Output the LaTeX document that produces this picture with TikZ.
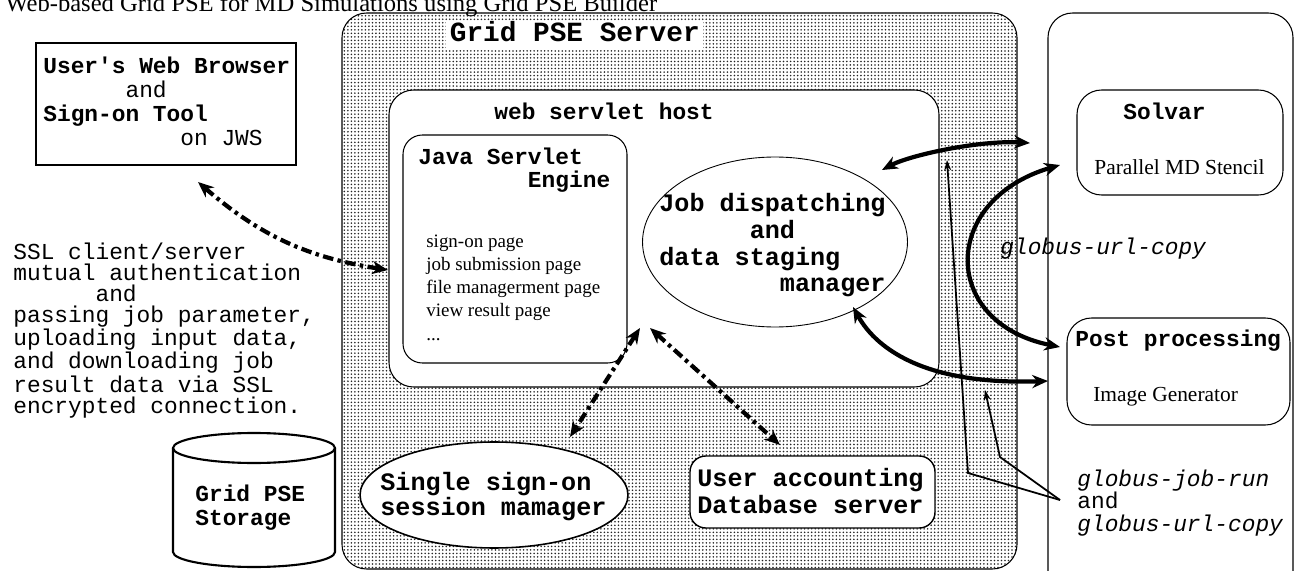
\documentclass[tikz,border=0pt]{standalone}
\usepackage{fontspec}
\setmainfont{Liberation Serif}
\setmonofont{Liberation Mono}
\usetikzlibrary{shapes.geometric, arrows.meta, fit, patterns.meta}
\newcommand{\fs}[2]{\fontsize{#1}{#2}\selectfont}
\newcommand{\sk}[1]{\hspace*{\dimexpr#1em*6/10\relax}}

\begin{document}
\begin{tikzpicture}[x=0.02cm, y=-0.02cm,
  box/.style={draw, inner sep=0pt, line width=.6pt},
  txt/.style={anchor=base west, inner sep=0pt, align=left, font=\ttfamily\fs{13}{13.7}},
  txtb/.style={txt, font=\ttfamily\bfseries\fs{13}{13.1}},
  serif/.style={anchor=base west, inner sep=0pt, font=\rmfamily\fs{12.2}{14}},
  dd/.style={line width=2.4pt, dash pattern=on 6pt off 2.5pt on 2pt off 2.5pt,
    {Stealth[length=9pt,width=7.5pt]}-{Stealth[length=9pt,width=7.5pt]}},
  fat/.style={line width=2.4pt, {Stealth[length=9pt,width=7.5pt]}-{Stealth[length=9pt,width=7.5pt]}},
  lead/.style={line width=1pt, -{Stealth[length=6pt,width=4pt]}}]
  \useasboundingbox (0,0) rectangle (1296,571);
  % containers
  \node[box, fit={(342,13) (1017,569)}, rounded corners=14pt,
    pattern={Dots[distance=2pt,radius=.5pt]}, pattern color=black!85] (srv) {};
  \node[box, fit={(1048,13) (1293,600)}, rounded corners=14pt] (grid) {};
  \node[box, fit={(389,90) (939,387)}, rounded corners=14pt, fill=white] (wsh) {};
  \node[box, fit={(403,135) (627,363)}, rounded corners=11pt] (jse) {};
  \node[box, ellipse, minimum width=5.3cm, minimum height=3.4cm, line width=.5pt] (jdm) at (775,242) {};
  \node[box, ellipse, fill=white, minimum width=5.36cm, minimum height=2.12cm, line width=.9pt] (sso) at (494,495) {};
  \node[box, fit={(690,456) (935,528)}, fill=white, rounded corners=9pt, line width=.8pt] (uadb) {};
  \node[box, fit={(1077,90) (1283,195)}, rounded corners=14pt] (slv) {};
  \node[box, fit={(1067,318) (1290,425)}, rounded corners=14pt] (pp) {};
  \node[box, fit={(36,43) (296,165)}, line width=.9pt] (brw) {};
  % storage
  \draw[line width=1.2pt, fill=white] (173,448) -- (173,552) arc[start angle=180, end angle=0, x radius=81, y radius=15] -- (335,448);
  \draw[line width=1.2pt] (254,448) ellipse[x radius=81, y radius=15];
  % texts (base = last line)
  \node[anchor=base west, inner sep=0pt, font=\rmfamily\fs{14}{16}] (title) at (5,12)
    {Web-based Grid PSE for MD Simulations using Grid PSE Builder};
  \node[txtb, font=\ttfamily\bfseries\fs{15.8}{18}, fill=white, inner xsep=2pt, inner ysep=2pt,
    text height=10pt, text depth=2pt] (srv-t) at (446,42) {Grid PSE Server};
  \node[txt, font=\ttfamily\fs{13}{13.66}] (brw-t) at (43,146)
    {\textbf{User's Web Browser}\\ \sk{6}and\\ \textbf{Sign-on Tool}\\ \sk{10}on JWS};
  \node[txt, font=\ttfamily\fs{13}{11.95}] (ssl) at (13,413)
    {SSL client/server\\ mutual authentication\\ \sk{6}and\\ passing job parameter,\\
     uploading input data,\\ and downloading job\\ result data via SSL\\ encrypted connection.};
  \node[txtb] (wsh-t) at (494,120) {web servlet host};
  \node[txtb] (jse-t) at (418,188) {Java Servlet\\ \sk{8}Engine};
  \node[txt, font=\rmfamily\fs{10.8}{13.1}] (pages) at (426,340)
    {sign-on page\\ job submission page\\ file managerment page\\ view result page\\ ...};
  \node[txtb, font=\ttfamily\bfseries\fs{14.3}{15.2}] (jdm-t) at (659,292)
    {Job dispatching\\ \sk{6}and\\ data staging\\ \sk{8}manager};
  \node[txtb, font=\ttfamily\bfseries\fs{14.3}{14.2}] (sso-t) at (380,515) {Single sign-on\\ session mamager};
  \node[txtb, font=\ttfamily\bfseries\fs{14.3}{14.8}] (uadb-t) at (697,513) {User accounting\\ Database server};
  \node[txtb, font=\ttfamily\bfseries\fs{13}{13.4}] (stor-t) at (195,525) {Grid PSE\\ Storage};
  \node[txtb] (slv-t) at (1123,120) {Solvar};
  \node[serif] (slv-s) at (1094,174) {Parallel MD Stencil};
  \node[txtb] (pp-t) at (1075,346) {Post processing};
  \node[serif] (pp-s) at (1093,401) {Image Generator};
  \node[txt, font=\ttfamily\itshape\fs{13}{13}] (guc) at (1000,255) {globus-url-copy};
  \node[txt, font=\ttfamily\fs{13}{12.8}] (lbl) at (1077,531)
    {\textit{globus-job-run}\\ and\\ \textit{globus-url-copy}};
  % connector ends
  \coordinate (brw-end) at (198,182);
  \coordinate (jse-in) at (388,270);
  \coordinate (jse-a) at (640,328);
  \coordinate (jse-b) at (650,328);
  \coordinate (sso-in) at (570,437);
  \coordinate (uadb-in) at (780,445);
  \coordinate (jdm-a) at (882,170);
  \coordinate (jdm-b) at (853,307);
  \coordinate (slv-a) at (1030,143);
  \coordinate (slv-b) at (1060,165);
  \coordinate (pp-a) at (1048,381);
  \coordinate (pp-b) at (1060,347);
  \coordinate (lbl-tip) at (1060,500);
  \coordinate (bend1) at (968,473);
  \coordinate (tip1) at (947,160);
  \coordinate (bend2) at (1000,457);
  \coordinate (tip2) at (985,390);
  % connectors
  \draw[dd] (brw-end) to[bend right=16] (jse-in);
  \draw[dd] (jse-a) -- (sso-in);
  \draw[dd] (jse-b) -- (uadb-in);
  \draw[fat] (jdm-a) .. controls (910,155) and (980,140) .. (slv-a);
  \draw[fat] (jdm-b) .. controls (878,352) and (930,385) .. (pp-a);
  \draw[fat] (slv-b) .. controls (940,200) and (940,323) .. (pp-b);
  \draw[lead] (lbl-tip) -- (bend1) -- (tip1);
  \draw[lead] (lbl-tip) -- (bend2) -- (tip2);
\end{tikzpicture}
\end{document}
